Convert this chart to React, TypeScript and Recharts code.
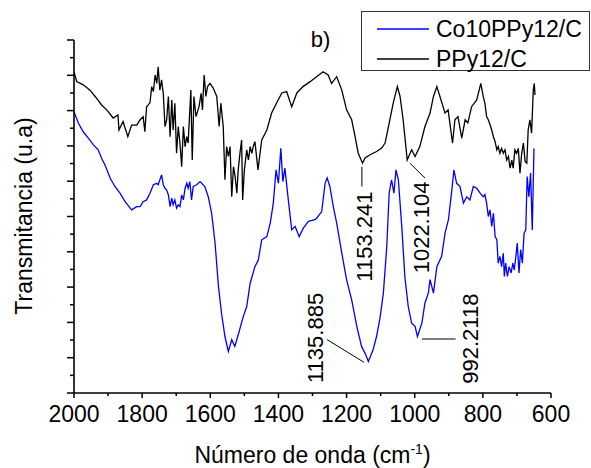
import React from 'react';
import { LineChart, Line, XAxis, YAxis, ReferenceLine, ReferenceDot } from 'recharts';

const FONT = "'Liberation Sans', Arial, sans-serif";

// PPy12/C (black)
const wnBlack = [
  2000,1992,1973,1953,1938,1919,1904,1885,1871,1868,1856,1842,1831,1816,
  1806,1797,1792,1787,1777,1772,1767,1762,1757,1753,1748,1743,1738,1733,1728,1723,1718,1713,1709,1704,
  1699,1694,1689,1684,1679,1674,1669,1665,1657,1653,1648,1642,1633,1627,1623,1618,1613,1608,1601,1591,
  1581,1574,1569,1562,1557,1552,1547,1542,1537,1532,1527,1522,1518,1513,1508,1505,1500,1493,1488,1483,
  1478,1474,1469,1460,1449,1434,1420,1405,1390,1376,1361,1346,1328,1307,1288,1269,1254,1244,1229,1214,
  1200,1185,1175,1166,1153,1146,1131,1112,1097,1087,1073,1063,1051,1043,1034,1027,1022,1009,999,985,
  970,955,945,935,926,911,902,889,882,873,862,852,844,833,818,806,799,
  794,789,784,779,774,769,764,759,755,750,745,740,735,730,725,720,
  715,711,706,701,696,691,686,681,676,671,667,662,657,652,649,647,
];
const tBlack = [
  9.10,8.82,8.73,8.58,8.40,8.16,8.02,7.79,7.88,7.45,7.69,7.26,7.59,7.59,
  7.74,7.83,7.40,8.11,8.22,8.68,8.54,9.01,8.77,9.24,8.58,8.87,8.49,7.55,7.74,8.40,7.26,8.30,7.45,8.21,
  6.79,7.55,7.08,6.41,7.55,6.98,7.26,7.08,8.58,6.60,8.40,7.83,8.11,8.49,8.02,9.01,8.40,8.68,8.77,8.63,
  8.40,7.55,8.21,7.55,6.04,6.98,6.70,6.98,5.56,6.41,6.13,5.66,6.32,6.79,7.17,5.47,6.32,6.89,6.60,6.98,
  6.79,6.98,7.12,6.32,7.17,7.45,7.93,8.22,8.50,8.54,8.11,8.50,8.68,8.82,8.96,9.10,9.01,8.77,8.96,8.58,
  8.02,7.74,7.26,6.80,6.51,6.66,6.75,6.84,6.94,7.08,7.74,8.22,8.68,8.40,7.74,7.08,6.60,6.89,6.70,6.98,
  7.55,7.93,8.40,8.68,8.40,7.93,8.02,7.08,7.74,7.83,7.22,7.74,7.65,8.11,8.30,8.77,8.40,
  8.21,7.83,7.74,7.60,7.45,7.26,7.12,6.89,6.98,6.79,6.93,6.79,6.89,6.60,6.70,6.37,
  6.60,6.37,6.89,6.79,6.93,6.23,6.79,7.08,6.56,6.51,7.45,7.74,7.36,8.58,8.77,8.44,
];

// Co10PPy12/C (blue)
const wnBlue = [
  2000,1987,1973,1958,1943,1929,1919,1909,1894,1880,1865,1850,1831,1816,1806,
  1797,1787,1777,1767,1757,1753,1748,1743,1738,1733,1728,1723,1718,1713,1709,1704,1699,1694,1689,1684,
  1679,1674,1669,1665,1660,1655,1650,1640,1630,1616,1606,1596,1586,1576,1567,1557,1547,1537,1528,1518,
  1503,1493,1483,1469,1459,1449,1434,1424,1415,1407,1400,1393,1387,1381,1371,1361,1351,1339,1327,1312,
  1293,1288,1273,1263,1257,1249,1239,1229,1214,1200,1185,1170,1156,1146,1136,1122,1112,1102,1092,1082,
  1075,1068,1061,1055,1048,1038,1029,1019,1009,999,992,979,970,960,955,945,935,921,911,901,
  891,885,877,867,857,847,838,828,818,808,799,
  794,789,784,779,774,769,764,759,755,750,745,740,737,733,728,723,
  717,712,708,703,699,694,689,684,679,674,670,665,660,655,650,
];
const tBlue = [
  7.97,7.64,7.40,7.22,7.03,6.89,6.65,6.46,6.09,5.85,5.66,5.42,5.19,5.28,5.28,
  5.42,5.47,5.66,5.90,5.94,5.90,6.04,6.18,5.90,5.80,5.75,5.61,5.28,5.52,5.33,5.47,5.24,5.33,5.28,5.61,
  5.47,5.80,5.94,5.80,5.99,5.47,5.85,5.90,5.99,5.85,5.56,5.09,4.25,3.02,2.26,1.60,1.18,1.51,1.32,1.65,
  2.17,2.45,3.11,3.58,3.77,4.34,4.43,4.81,5.38,6.32,5.94,6.93,5.99,6.37,5.47,4.62,4.72,4.43,4.67,4.86,
  4.91,4.95,5.14,5.94,6.09,5.85,5.28,4.81,3.96,3.21,2.64,1.89,1.32,1.13,0.89,1.23,1.60,2.12,2.83,4.15,
  5.66,6.04,5.66,6.32,6.04,4.72,3.30,2.45,1.98,1.89,1.60,1.98,2.55,2.83,3.21,2.83,3.58,3.87,4.53,4.91,
  5.75,6.32,5.94,5.85,5.38,5.56,5.47,5.85,5.80,5.66,5.56,
  5.62,5.38,5.00,5.19,4.72,5.09,4.43,4.34,3.68,3.87,3.58,3.96,3.30,3.68,3.30,3.58,
  3.40,3.68,3.49,3.87,4.25,3.40,4.06,3.68,4.53,4.62,6.13,5.56,6.23,4.62,6.93,
];

const xTicks = [2000,1900,1800,1700,1600,1500,1400,1300,1200,1100,1000,900,800,700,600];
const yTicks = [0,0.5,1,1.5,2,2.5,3,3.5,4,4.5,5,5.5,6,6.5,7,7.5,8,8.5,9,9.5,10];

const seriesNames = ['Co10PPy12/C', 'PPy12/C'];
const seriesColors = ['#0000FF', '#000000'];

// annotations: text anchor (wavenumber, value), leader segment
const annTexts = [
  { label: '1153.241', w: 1126, v: 4.43 },
  { label: '1022.104', w: 957, v: 4.69 },
  { label: '1135.885', w: 1268, v: 1.56 },
  { label: '992.2118', w: 813, v: 1.54 },
];
const annLines = [
  [{ x: 1155, y: 6.41 }, { x: 1155, y: 5.85 }],
  [{ x: 1014, y: 6.51 }, { x: 970, y: 6.09 }],
  [{ x: 1257, y: 1.51 }, { x: 1149, y: 0.87 }],
  [{ x: 979, y: 1.53 }, { x: 880, y: 1.53 }],
];

const blackData = wnBlack.map((w, i) => ({ w, t: tBlack[i] }));
const blueData = wnBlue.map((w, i) => ({ w, t: tBlue[i] }));

const XTick = (props: any) => {
  const { x, y, payload } = props;
  const major = payload.value % 200 === 0;
  return (
    <g>
      <line x1={x} y1={y} x2={x} y2={y + (major ? 5 : 3)} stroke="#000" strokeWidth={1.5} />
      {major && (
        <text x={x} y={y + 29} textAnchor="middle" fontSize={23} fontFamily={FONT} fill="#000">
          {payload.value}
        </text>
      )}
    </g>
  );
};

const YTick = (props: any) => {
  const { x, y, payload } = props;
  const major = Number.isInteger(payload.value);
  return <line x1={x - (major ? 7 : 4)} y1={y} x2={x} y2={y} stroke="#000" strokeWidth={1.5} />;
};

const LegendBox = () => (
  <svg width={230} height={61} style={{ display: 'block' }}>
    <rect x={0.5} y={0.5} width={228} height={59} fill="#fff" stroke="#333" strokeWidth={1} />
    {seriesNames.map((n, i) => (
      <g key={n}>
        <line x1={16} x2={68} y1={18 + i * 30} y2={18 + i * 30} stroke={seriesColors[i]} strokeWidth={1.3} />
        <text x={75} y={26 + i * 30} fontSize={23} fontFamily={FONT} fill="#000">{n}</text>
      </g>
    ))}
  </svg>
);

export default function App() {
  return (
    <div style={{ position: 'absolute', left: 0, top: 0, width: 591, height: 468 }}>
      <LineChart width={591} height={468} margin={{ top: 40, right: 40, left: 0, bottom: 0 }}>
        <XAxis
          type="number"
          dataKey="w"
          domain={[600, 2000]}
          reversed
          ticks={xTicks}
          interval={0}
          tickSize={0}
          tickMargin={0}
          tickLine={false}
          tick={<XTick />}
          height={75}
          axisLine={{ stroke: '#000', strokeWidth: 1.6 }}
          allowDataOverflow
          label={{
            content: (p: any) => {
              const vb = p.viewBox;
              return (
                <text x={vb.x + vb.width / 2} y={463} textAnchor="middle" fontSize={23} fontFamily={FONT} fill="#000">
                  Número de onda (cm<tspan dy={-9} fontSize={14}>-1</tspan><tspan dy={9}>)</tspan>
                </text>
              );
            },
          }}
        />
        <YAxis
          type="number"
          domain={[0, 10]}
          ticks={yTicks}
          interval={0}
          tickSize={0}
          tickMargin={0}
          tickLine={false}
          tick={<YTick />}
          width={74}
          axisLine={{ stroke: '#000', strokeWidth: 1.6 }}
          allowDataOverflow
          label={{
            content: () => (
              <text transform="translate(32,216) rotate(-90)" textAnchor="middle" fontSize={23} fontFamily={FONT} fill="#000">
                Transmitancia (u.a)
              </text>
            ),
          }}
        />
        <Line data={blueData} dataKey="t" name={seriesNames[0]} stroke={seriesColors[0]} strokeWidth={1.3} dot={false} isAnimationActive={false} type="linear" />
        <Line data={blackData} dataKey="t" name={seriesNames[1]} stroke={seriesColors[1]} strokeWidth={1.3} dot={false} isAnimationActive={false} type="linear" />
        {annLines.map((seg, i) => (
          <ReferenceLine key={'l' + i} segment={seg} stroke="#000" strokeWidth={1} ifOverflow="visible" />
        ))}
        {annTexts.map((a) => (
          <ReferenceDot
            key={a.label}
            x={a.w}
            y={a.v}
            r={0}
            ifOverflow="visible"
            shape={(p: any) => (
              <text transform={`translate(${p.cx},${p.cy}) rotate(-90)`} textAnchor="middle" fontSize={22} fontFamily={FONT} fill="#000">
                {a.label}
              </text>
            )}
          />
        ))}
        <ReferenceDot
          x={1305}
          y={9.81}
          r={0}
          ifOverflow="visible"
          shape={(p: any) => (
            <text x={p.cx} y={p.cy} fontSize={22} fontFamily={FONT} fill="#000">b)</text>
          )}
        />
      </LineChart>
      <div style={{ position: 'absolute', left: 361, top: 11 }}>
        <LegendBox />
      </div>
    </div>
  );
}
